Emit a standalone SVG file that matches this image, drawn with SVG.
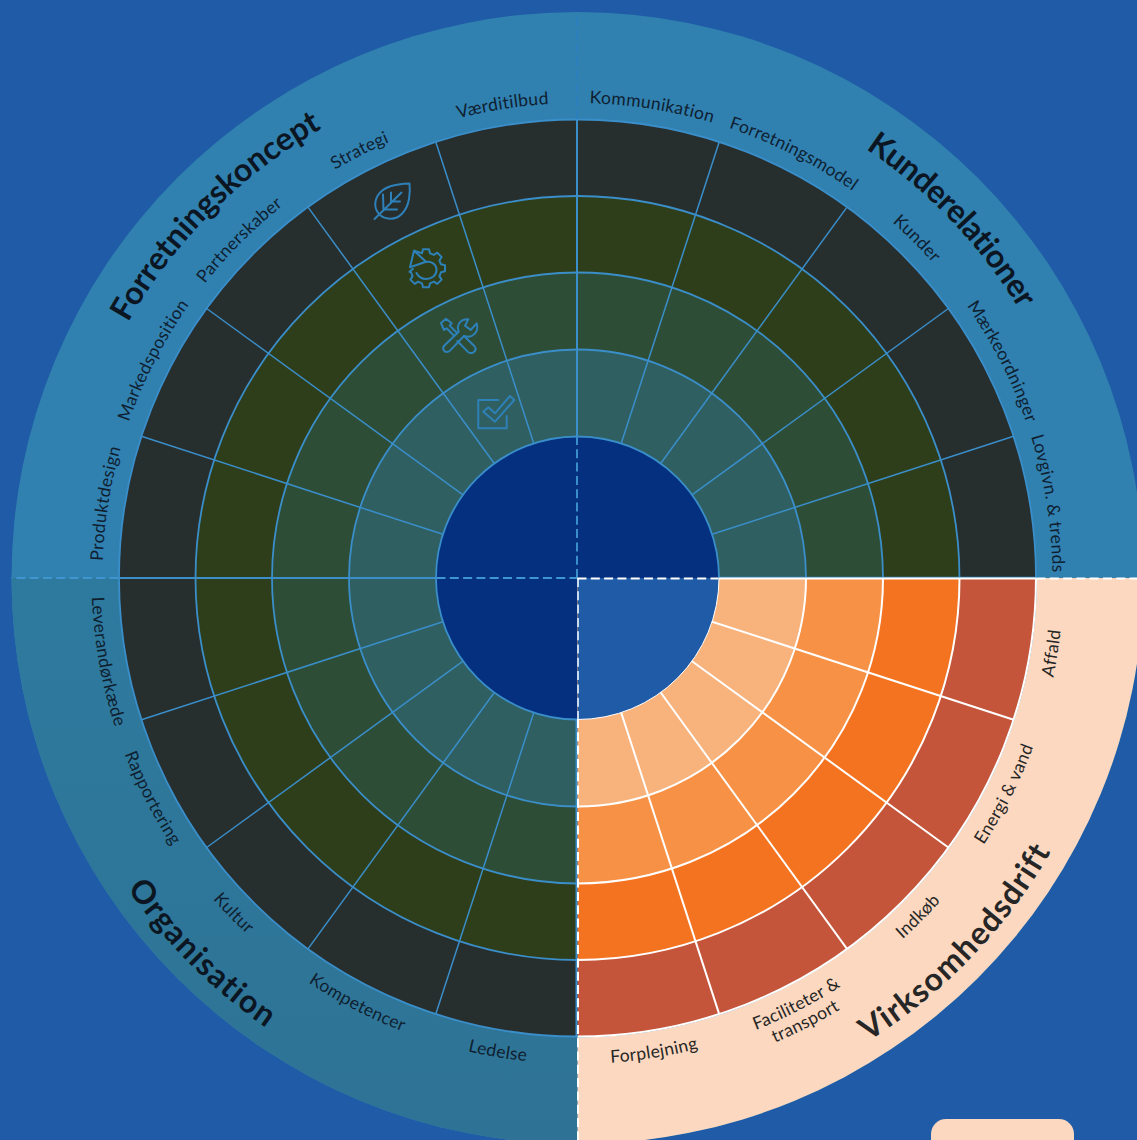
<svg xmlns="http://www.w3.org/2000/svg" width="1137" height="1140" viewBox="0 0 1137 1140">
<style>
.ring{stroke:#3a8ec9;stroke-width:1.8}
.arc{fill:none;stroke:#fff;stroke-width:2}
.lab{font-family:"Lato","Liberation Sans",sans-serif;font-size:17.5px;letter-spacing:.3px;fill:#0f1f30;text-anchor:middle}
.ti{font-family:"Lato","Liberation Sans",sans-serif;font-size:32px;font-weight:700;fill:#0b1622;text-anchor:middle}
.dk{fill:#262626}
.sp line{stroke:#3a8ec9;stroke-width:1.5}
.sw line{stroke:#fff;stroke-width:2}
.ic{fill:none;stroke:#2e80b8;stroke-width:2;stroke-linejoin:round;stroke-linecap:round}
</style>
<defs>
<linearGradient id="bl" x1="0" y1="0" x2="0" y2="1"><stop offset="0" stop-color="#2e7a9f"/><stop offset="1" stop-color="#2e7395"/></linearGradient>
<path id="t475" d="M102.500,578A475,475 0 0 1 1052.500,578"/>
<path id="b486" d="M91.500,578A486,486 0 0 0 1063.500,578"/>
<path id="b505" d="M72.500,578A505,505 0 0 0 1082.500,578"/>
<path id="t517" d="M60.500,578A517,517 0 0 1 1094.500,578"/>
<path id="b547" d="M30.500,578A547,547 0 0 0 1124.500,578"/>
</defs>
<rect width="1137" height="1140" fill="#1f5ba6"/>
<g id="wheel">
<circle cx="577.500" cy="578" r="566" fill="#3080b0"/>
<path d="M577.500,578H11.500A566,566 0 0 0 577.500,1144Z" fill="url(#bl)"/>
<path d="M577.500,578H1143.500A566,566 0 0 1 577.500,1144Z" fill="#fbd8bf"/>
<circle class="ring" cx="577.500" cy="578" r="458.500" fill="#272e2e"/>
<circle class="ring" cx="577.500" cy="578" r="382" fill="#2f3e1a"/>
<circle class="ring" cx="577.500" cy="578" r="305.500" fill="#2e4d37"/>
<circle class="ring" cx="577.500" cy="578" r="228.500" fill="#2f5f60"/>
<circle class="ring" cx="577.500" cy="578" r="141.500" fill="#04307f"/>
</g>
<g id="virksomhedsdrift-rings">
<path d="M577.500,578H1036A458.500,458.500 0 0 1 577.500,1036.500Z" fill="#c4553a"/>
<path d="M577.500,578H959.500A382,382 0 0 1 577.500,960Z" fill="#f47321"/>
<path d="M577.500,578H883A305.500,305.500 0 0 1 577.500,883.500Z" fill="#f79146"/>
<path d="M577.500,578H806A228.500,228.500 0 0 1 577.500,806.500Z" fill="#f8b27c"/>
<path d="M577.500,578H719A141.500,141.500 0 0 1 577.500,719.500Z" fill="#1f5ba6"/>
<path class="arc" stroke-width="1.500" d="M1036,578A458.500,458.500 0 0 1 577.500,1036.500"/>
<path class="arc" d="M959.500,578A382,382 0 0 1 577.500,960"/>
<path class="arc" d="M883,578A305.500,305.500 0 0 1 577.500,883.500"/>
<path class="arc" d="M806,578A228.500,228.500 0 0 1 577.500,806.500"/>
<path class="arc" style="stroke-width:1" d="M719,578A141.500,141.500 0 0 1 577.500,719.500"/>
</g>
<g id="connectors" transform="translate(577.500,578)">
<g class="sp">
<line x1="43.700" y1="-134.600" x2="141.700" y2="-436.100"/><line x1="83.200" y1="-114.500" x2="269.500" y2="-370.900"/><line x1="114.500" y1="-83.200" x2="370.900" y2="-269.500"/><line x1="134.600" y1="-43.700" x2="436.100" y2="-141.700"/>
<line x1="-43.700" y1="-134.600" x2="-141.700" y2="-436.100"/><line x1="-83.200" y1="-114.500" x2="-269.500" y2="-370.900"/><line x1="-114.500" y1="-83.200" x2="-370.900" y2="-269.500"/><line x1="-134.600" y1="-43.700" x2="-436.100" y2="-141.700"/>
<line x1="-43.700" y1="134.600" x2="-141.700" y2="436.100"/><line x1="-83.200" y1="114.500" x2="-269.500" y2="370.900"/><line x1="-114.500" y1="83.200" x2="-370.900" y2="269.500"/><line x1="-134.600" y1="43.700" x2="-436.100" y2="141.700"/>
<line x1="-0.500" y1="-141.500" x2="-0.500" y2="-458.500" style="stroke-width:2"/><line x1="-141.500" y1="0" x2="-458.500" y2="0" style="stroke-width:2"/><line x1="-1" y1="141.500" x2="-1" y2="458.500" style="stroke-width:2"/><line x1="141.500" y1="-0.500" x2="458.500" y2="-0.500" style="stroke-width:1.500"/>
</g>
<g class="sw">
<line x1="43.700" y1="134.600" x2="141.700" y2="436.100"/><line x1="83.200" y1="114.500" x2="269.500" y2="370.900"/><line x1="114.500" y1="83.200" x2="370.900" y2="269.500"/><line x1="134.600" y1="43.700" x2="436.100" y2="141.700"/>
<line x1="141.500" y1="0.500" x2="458.500" y2="0.500"/>
</g>
<g fill="none" stroke-width="2" stroke-dasharray="9 4.300">
<line x1="-0.500" y1="0" x2="-0.500" y2="-141" stroke="#3a8ec9"/>
<line x1="-0.500" y1="-459" x2="-0.500" y2="-566" stroke="#2b7fbc"/>
<line x1="-141" y1="0" x2="0" y2="0" stroke="#3f95d0"/>
<line x1="-459" y1="0" x2="-566" y2="0" stroke="#3f95d0"/>
<line x1="0.500" y1="0" x2="0.500" y2="141" stroke="#c9d8ea"/>
<line x1="0" y1="0.500" x2="141" y2="0.500" stroke="#fff"/>
<line x1="459" y1="0.500" x2="560" y2="0.500" stroke="#fff"/>
<line x1="0.500" y1="141" x2="0.500" y2="562" stroke="#fff"/>
</g>
</g>
<g id="forretningskoncept">
<text class="ti"><textPath href="#t517" startOffset="25%">Forretningskoncept</textPath></text>
<text class="lab"><textPath href="#t475" startOffset="5%">Produktdesign</textPath></text>
<text class="lab"><textPath href="#t475" startOffset="15.100%">Markedsposition</textPath></text>
<text class="lab"><textPath href="#t475" startOffset="25%">Partnerskaber</textPath></text>
<text class="lab"><textPath href="#t475" startOffset="35%">Strategi</textPath></text>
<text class="lab"><textPath href="#t475" startOffset="45%">Værditilbud</textPath></text>
</g>
<g id="kunderelationer">
<text class="ti" style="letter-spacing:-.5px"><textPath href="#t517" startOffset="75.700%">Kunderelationer</textPath></text>
<text class="lab"><textPath href="#t475" startOffset="55%">Kommunikation</textPath></text>
<text class="lab"><textPath href="#t475" startOffset="65%">Forretningsmodel</textPath></text>
<text class="lab"><textPath href="#t475" startOffset="75%">Kunder</textPath></text>
<text class="lab"><textPath href="#t475" startOffset="85%">Mærkeordninger</textPath></text>
<text class="lab"><textPath href="#t475" startOffset="95%">Lovgivn. &amp; trends</textPath></text>
</g>
<g id="organisation">
<text class="ti" style="letter-spacing:1.300px"><textPath href="#b547" startOffset="25%">Organisation</textPath></text>
<text class="lab"><textPath href="#b486" startOffset="5.600%">Leverandørkæde</textPath></text>
<text class="lab"><textPath href="#b486" startOffset="15.200%">Rapportering</textPath></text>
<text class="lab"><textPath href="#b486" startOffset="24.600%">Kultur</textPath></text>
<text class="lab"><textPath href="#b486" startOffset="34.800%">Kompetencer</textPath></text>
<text class="lab"><textPath href="#b486" startOffset="44.700%">Ledelse</textPath></text>
</g>
<g id="virksomhedsdrift">
<text class="ti dk" style="letter-spacing:1.200px"><textPath href="#b547" startOffset="75.600%">Virksomhedsdrift</textPath></text>
<text class="lab dk"><textPath href="#b486" startOffset="55.100%">Forplejning</textPath></text>
<text class="lab dk"><textPath href="#b486" startOffset="65.100%">Faciliteter &amp;</textPath></text>
<text class="lab dk"><textPath href="#b505" startOffset="65.100%">transport</textPath></text>
<text class="lab dk"><textPath href="#b486" startOffset="75.100%">Indkøb</textPath></text>
<text class="lab dk"><textPath href="#b486" startOffset="85.100%">Energi &amp; vand</textPath></text>
<text class="lab dk"><textPath href="#b486" startOffset="95%">Affald</textPath></text>
</g>
<g id="icon-leaf" class="ic">
<path d="M409.500,183.500C396,184 383,186 377.500,196C372,206 377,217 388,218.500C400,220 407,210 409,199C410,193 410,188 409.500,183.500Z"/>
<path d="M374.500,219L401.500,192.500M383.500,210.500L383,194.500M391,202.500V192.500M392,201.500H400M385,209.500H397"/>
</g>
<g id="icon-gear" class="ic">
<path d="M410,267.300L414,250.700L426,261.700Z"/>
<path d="M426,262C431,261 436.500,264 436.500,270C436.500,276 431,279 426,279C421,279 418,276 416.500,273"/>
<path transform="translate(426,268.300)" d="M-12,-17.600L-4,-15L-3,-19H3L4,-15L7.800,-13.400L11.300,-15.600L15.600,-11.300L13.400,-7.800L15,-4L19,-3V3L15,4L13.400,7.800L15.600,11.300L11.300,15.600L7.800,13.400L4,15L3,19H-3L-4,15L-7.800,13.400L-11.300,15.600L-15.600,11.300L-13.400,7.800L-15,4L-16.500,3.500L-13,0.500"/>
</g>
<g id="icon-tools" class="ic" transform="translate(340,160) scale(.33333)" style="stroke-width:6">
<path d="M385,478L375,497L392,510L410,490C418,515 398,537 372,528L330,572C318,584 302,568 314,556L356,515C348,495 362,476 385,478Z"/>
<path d="M343,528L320,505L312,510L303,489L318,476L335,490L329,497L352,520"/>
<path d="M372,528L403,558C414,572 396,586 383,575L352,543"/>
</g>
<g id="icon-check" class="ic">
<path d="M498.300,400H478.300V428.300H506.700V416"/>
<path d="M483.300,411.700L488.300,407.300L495,413.300L510,396L514.300,400L495,421.700Z"/>
</g>
<rect id="legend-tab" x="931" y="1119" width="143" height="40" rx="15" fill="#fbd8bf"/>
</svg>
